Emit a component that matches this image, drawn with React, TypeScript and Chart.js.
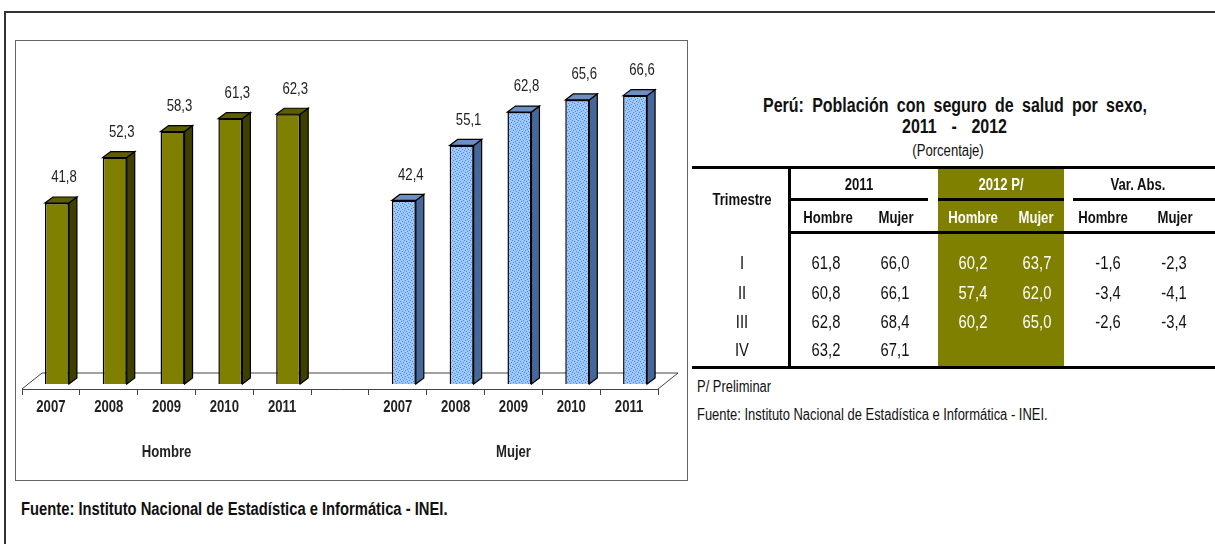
import React, { useEffect, useRef } from 'react';
import { Chart, registerables } from 'chart.js';

Chart.register(...registerables);

// ---------- data ----------
const years = ['2007', '2008', '2009', '2010', '2011'];
const groupLabels = ['Hombre', 'Mujer'];
const hombreValues = [41.8, 52.3, 58.3, 61.3, 62.3];
const mujerValues = [42.4, 55.1, 62.8, 65.6, 66.6];

const trimestres = ['I', 'II', 'III', 'IV'];
const hombre2011 = [61.8, 60.8, 62.8, 63.2];
const mujer2011 = [66.0, 66.1, 68.4, 67.1];
const hombre2012 = [60.2, 57.4, 60.2, null];
const mujer2012 = [63.7, 62.0, 65.0, null];
const varHombre = [-1.6, -3.4, -2.6, null];
const varMujer = [-2.3, -4.1, -3.4, null];

const FONT = "'Liberation Sans', Arial, sans-serif";
const NARROW = 0.82; // Arial Narrow look: Arial glyphs condensed horizontally
const fmt = (v: number | null) => (v == null ? '' : v.toFixed(1).replace('.', ','));

// ---------- chart geometry (style) ----------
const K = 4.33; // px per unit
const LIFT = 5; // bars sit slightly back on the floor
const SHIFT_X = 6;
const DX = 8;
const DY = 6;
const FLOOR_DX = 20;
const FLOOR_DY = 16;
const CANVAS_W = 672;
const CANVAS_H = 440;
const AREA_BOTTOM = 349;
const Y_MAX = 75;
const Y_MIN = -LIFT / K;

const sideColors = ['#3f3f00', '#46679a'];
const topColors = ['#5e5e00', '#6c8fc4'];

function makePattern(ctx: CanvasRenderingContext2D) {
  const c = document.createElement('canvas');
  c.width = 6;
  c.height = 6;
  const p = c.getContext('2d')!;
  p.fillStyle = '#9cc8fb';
  p.fillRect(0, 0, 6, 6);
  p.fillStyle = '#4f82cf';
  [[0, 0], [3, 1], [1, 3], [5, 2], [4, 4], [2, 5]].forEach(([a, b]) => p.fillRect(a, b, 1, 1));
  return ctx.createPattern(c, 'repeat');
}

function narrowText(ctx: CanvasRenderingContext2D, text: string, x: number, y: number) {
  ctx.save();
  ctx.translate(x, y);
  ctx.scale(NARROW, 1);
  ctx.fillText(text, 0, 0);
  ctx.restore();
}

const bar3dPlugin = {
  id: 'bar3d',
  beforeDatasetsDraw(chart: any) {
    const { ctx, chartArea } = chart;
    const l = chartArea.left;
    const r = chartArea.right;
    const b = chartArea.bottom;
    ctx.save();
    ctx.beginPath();
    ctx.moveTo(l, b);
    ctx.lineTo(l + FLOOR_DX, b - FLOOR_DY);
    ctx.lineTo(r + FLOOR_DX, b - FLOOR_DY);
    ctx.lineTo(r, b);
    ctx.strokeStyle = '#444';
    ctx.lineWidth = 1;
    ctx.stroke();
    ctx.restore();
    ctx.save();
    ctx.translate(SHIFT_X, 0);
  },
  afterDatasetsDraw(chart: any) {
    const { ctx } = chart;
    ctx.restore();
    const poly = (pts: number[][], fill: string) => {
      ctx.beginPath();
      ctx.moveTo(pts[0][0], pts[0][1]);
      for (let i = 1; i < pts.length; i++) ctx.lineTo(pts[i][0], pts[i][1]);
      ctx.closePath();
      ctx.fillStyle = fill;
      ctx.fill();
      ctx.strokeStyle = '#000';
      ctx.lineWidth = 1.2;
      ctx.stroke();
    };
    ctx.save();
    ctx.textAlign = 'center';
    ctx.textBaseline = 'middle';
    chart.data.datasets.forEach((ds: any, di: number) => {
      const meta = chart.getDatasetMeta(di);
      meta.data.forEach((el: any, i: number) => {
        const v = ds.data[i];
        if (v == null) return;
        const { x, y, base, width } = el.getProps(['x', 'y', 'base', 'width'], true);
        const left = x - width / 2 + SHIFT_X;
        const right = x + width / 2 + SHIFT_X;
        poly([[right, y], [right + DX, y - DY], [right + DX, base - DY], [right, base]], sideColors[di]);
        poly([[left, y], [left + DX, y - DY], [right + DX, y - DY], [right, y]], topColors[di]);
        ctx.fillStyle = '#222';
        ctx.font = `16px ${FONT}`;
        narrowText(ctx, fmt(v), x + SHIFT_X + 7, y - 25);
      });
    });
    // category labels and group labels under the axis
    const xs = chart.scales.x;
    ctx.font = `bold 16px ${FONT}`;
    ctx.fillStyle = '#222';
    (chart.data.labels as string[]).forEach((lab, i) => {
      if (lab) narrowText(ctx, lab, xs.getPixelForValue(i), AREA_BOTTOM + 19);
    });
    groupLabels.forEach((g, gi) => {
      const start = gi * (years.length + 1);
      const cx = (xs.getPixelForValue(start) + xs.getPixelForValue(start + years.length - 1)) / 2;
      narrowText(ctx, g, cx, AREA_BOTTOM + 64);
    });
    ctx.restore();
  },
};

function BarChart() {
  const ref = useRef<HTMLCanvasElement>(null);
  useEffect(() => {
    const canvas = ref.current!;
    const ctx = canvas.getContext('2d')!;
    const pattern = makePattern(ctx);
    const blanks = years.map(() => null);
    const labels = [...years, '', ...years];
    const chart = new Chart(canvas, {
      type: 'bar',
      data: {
        labels,
        datasets: [
          {
            label: groupLabels[0],
            data: [...hombreValues, null, ...blanks],
            backgroundColor: '#808000',
            borderColor: '#000',
            borderWidth: 1.5,
            grouped: false,
            barPercentage: 24 / 57.8,
            categoryPercentage: 1,
          } as any,
          {
            label: groupLabels[1],
            data: [...blanks, null, ...mujerValues],
            backgroundColor: pattern as any,
            borderColor: '#000',
            borderWidth: 1.5,
            grouped: false,
            barPercentage: 24 / 57.8,
            categoryPercentage: 1,
          } as any,
        ],
      },
      options: {
        responsive: false,
        animation: false,
        devicePixelRatio: 1,
        layout: {
          padding: {
            left: 7,
            right: CANVAS_W - 643,
            top: AREA_BOTTOM - (Y_MAX - Y_MIN) * K,
            bottom: 0,
          },
        },
        plugins: {
          legend: { display: false },
          tooltip: { enabled: false },
          title: { display: false },
        },
        scales: {
          x: {
            grid: {
              offset: true,
              drawOnChartArea: false,
              drawTicks: true,
              tickLength: 6,
              color: '#444',
            },
            border: { display: true, color: '#444', width: 1 },
            ticks: { display: false, autoSkip: false },
            afterFit: (scale: any) => {
              scale.height = CANVAS_H - AREA_BOTTOM;
            },
          },
          y: {
            display: false,
            min: Y_MIN,
            max: Y_MAX,
          },
        },
      },
      plugins: [bar3dPlugin],
    });
    return () => chart.destroy();
  }, []);
  return (
    <canvas
      ref={ref}
      width={CANVAS_W}
      height={CANVAS_H}
      style={{ position: 'absolute', left: 15, top: 40, width: CANVAS_W, height: CANVAS_H }}
    />
  );
}

type TProps = {
  x: number;
  y: number;
  text: string;
  align?: 'left' | 'center';
  bold?: boolean;
  size?: number;
  color?: string;
};

function T({ x, y, text, align = 'center', bold = false, size = 16, color = '#111' }: TProps) {
  const style: React.CSSProperties = {
    position: 'absolute',
    top: y - 10,
    height: 20,
    lineHeight: '20px',
    fontFamily: FONT,
    fontSize: size,
    fontWeight: bold ? 'bold' : 'normal',
    color,
    whiteSpace: 'nowrap',
    transform: `scaleX(${NARROW})`,
  };
  if (align === 'center') {
    style.left = x - 250;
    style.width = 500;
    style.textAlign = 'center';
    style.transformOrigin = '50% 50%';
  } else {
    style.left = x;
    style.transformOrigin = '0 50%';
  }
  return <div style={style}>{text}</div>;
}

// text spread across a fixed width (distributed alignment)
function Spread({ cx, y, width, words, size = 16, bold = true }: { cx: number; y: number; width: number; words: string[]; size?: number; bold?: boolean }) {
  return (
    <div
      style={{
        position: 'absolute',
        left: cx - width / 2,
        top: y - 11,
        width: width / NARROW,
        height: 22,
        lineHeight: '22px',
        display: 'flex',
        justifyContent: 'space-between',
        fontFamily: FONT,
        fontSize: size,
        fontWeight: bold ? 'bold' : 'normal',
        color: '#111',
        whiteSpace: 'nowrap',
        transform: `scaleX(${NARROW})`,
        transformOrigin: '0 50%',
      }}
    >
      {words.map((w, i) => (
        <span key={i}>{w}</span>
      ))}
    </div>
  );
}

function Line({ x1, x2, y, h = 3 }: { x1: number; x2: number; y: number; h?: number }) {
  return <div style={{ position: 'absolute', left: x1, top: y - h / 2, width: x2 - x1, height: h, background: '#000' }} />;
}

const titleWords = ['Perú:', 'Población', 'con', 'seguro', 'de', 'salud', 'por', 'sexo,'];
const subtitleWords = ['2011', '-', '2012'];
const colX = [826, 895, 973, 1037, 1108, 1174];
const headX = [828, 896, 973, 1036, 1103, 1175];
const rowY = [263, 293, 322, 350];

function DataTable() {
  const cols = [hombre2011, mujer2011, hombre2012, mujer2012, varHombre, varMujer];
  return (
    <>
      <div style={{ position: 'absolute', left: 938, top: 167, width: 126, height: 200, background: '#808000' }} />
      <Spread cx={955} y={105} width={384} words={titleWords} size={19.5} />
      <Spread cx={954.5} y={126} width={105} words={subtitleWords} size={19.5} />
      <T x={948} y={151} text="(Porcentaje)" size={16} />
      <Line x1={692} x2={1215} y={167} />
      <Line x1={692} x2={1215} y={367} />
      <div style={{ position: 'absolute', left: 788, top: 167, width: 3, height: 200, background: '#000' }} />
      <Line x1={789} x2={928} y={199} />
      <Line x1={938} x2={1064} y={199} />
      <Line x1={1073} x2={1215} y={199} />
      <Line x1={789} x2={1215} y={232} />
      <T x={742} y={200} text="Trimestre" bold />
      <T x={859} y={185} text="2011" bold />
      <T x={1001} y={185} text="2012 P/" bold color="#fff" />
      <T x={1138} y={185} text="Var. Abs." bold />
      {['Hombre', 'Mujer', 'Hombre', 'Mujer', 'Hombre', 'Mujer'].map((h, i) => (
        <T key={'h' + i} x={headX[i]} y={218} text={h} bold color={i === 2 || i === 3 ? '#fff' : '#111'} />
      ))}
      {trimestres.map((t, r) => (
        <React.Fragment key={'r' + r}>
          <T x={742} y={rowY[r]} text={t} size={18} />
          {cols.map((c, ci) => (
            <T
              key={'c' + ci}
              x={colX[ci]}
              y={rowY[r]}
              text={fmt(c[r])}
              size={18}
              color={ci === 2 || ci === 3 ? '#fff' : '#111'}
            />
          ))}
        </React.Fragment>
      ))}
      <T x={697} y={387} text="P/ Preliminar" align="left" size={15.8} />
      <T x={697} y={415} text="Fuente: Instituto Nacional de Estadística e Informática - INEI." align="left" size={15.8} />
    </>
  );
}

export default function App() {
  return (
    <div style={{ position: 'absolute', left: 0, top: 0, width: 1215, height: 544, background: '#fff', overflow: 'hidden' }}>
      <div style={{ position: 'absolute', left: 4, top: 11, width: 1215, height: 544, borderTop: '2px solid #333', borderLeft: '2px solid #333' }} />
      <div
        style={{
          position: 'absolute',
          left: 15,
          top: 40,
          width: 673,
          height: 441,
          border: '1px solid #666',
          boxSizing: 'border-box',
        }}
      />
      <BarChart />
      <T x={21} y={509} text="Fuente: Instituto Nacional de Estadística e Informática - INEI." align="left" bold size={18} />
      <DataTable />
    </div>
  );
}
